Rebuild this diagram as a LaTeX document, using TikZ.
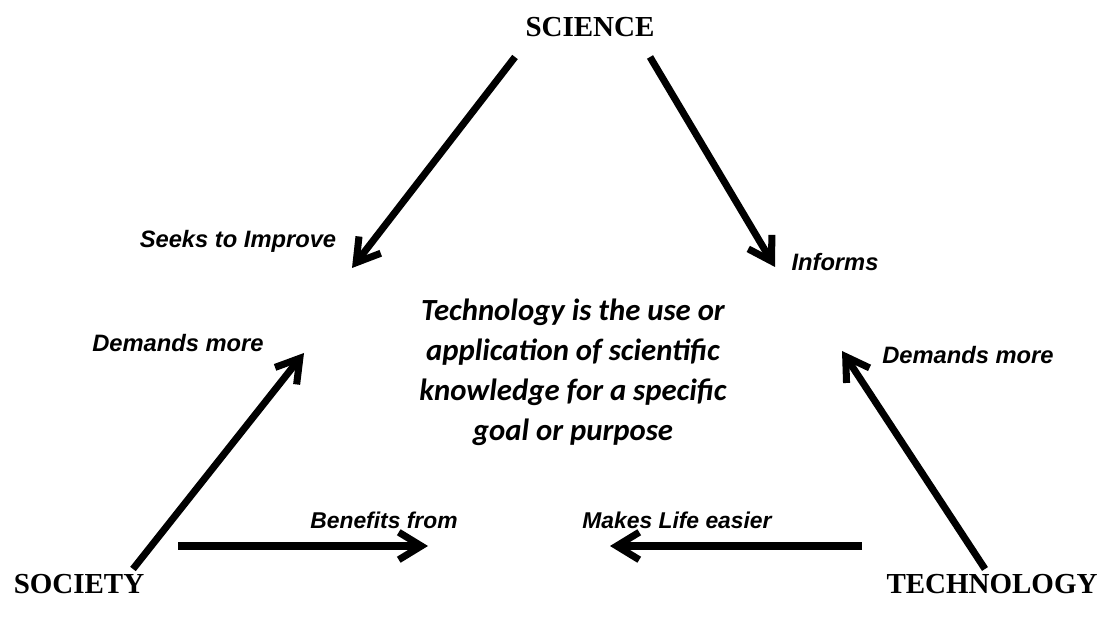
\documentclass[tikz,border=0pt]{standalone}
\usepackage{fontspec}
\setmainfont{Liberation Serif}
\setsansfont{Liberation Sans}
\newfontfamily\calfont{Carlito}
\usetikzlibrary{arrows.meta}
\tikzset{
  corner/.style={font=\bfseries\fontsize{16.5}{18}\selectfont},
  lbl/.style={font=\sffamily\bfseries\itshape\fontsize{13.5}{15}\selectfont},
  lowlbl/.style={font=\sffamily\bfseries\itshape\fontsize{13}{15}\selectfont},
  flow/.style={line width=4pt,-{Straight Barb[length=4.5mm,width=5.5mm,line width=4pt]}}
}
\begin{document}
\begin{tikzpicture}[x=0.02cm,y=-0.02cm]
\useasboundingbox (0,0) rectangle (1102,617);
\node[corner] (sci) at (590,27) {SCIENCE};
\node[corner] (soc) at (79,584) {SOCIETY};
\node[corner] (tec) at (992,584) {TECHNOLOGY};
\coordinate (a1) at (515,57);
\coordinate (b1) at (352,268);
\coordinate (a2) at (650,57);
\coordinate (b2) at (775,267);
\coordinate (a3) at (133,569);
\coordinate (b3) at (304,353);
\coordinate (a4) at (985,569);
\coordinate (b4) at (842,351);
\coordinate (a5) at (178,546);
\coordinate (b5) at (428,546);
\coordinate (a6) at (862,546);
\coordinate (b6) at (610,546);
\foreach \i in {1,...,6}{\draw[flow] (a\i)--(b\i);}
\node[lbl] (seeks) at (238,241) {Seeks to Improve};
\node[lbl] (inf) at (835,262) {Informs};
\node[lbl] (dml) at (178,343) {Demands more};
\node[lbl] (dmr) at (968,355) {Demands more};
\node[lowlbl] (ben) at (384,520) {Benefits from};
\node[lowlbl] (mak) at (677,520) {Makes Life easier};
\node[align=center,font=\calfont\bfseries\itshape\fontsize{17.5}{22.7}\selectfont] (def) at (573,372)
  {Technology is the use or\\application of scientific\\knowledge for a specific\\goal or purpose};
\end{tikzpicture}
\end{document}
